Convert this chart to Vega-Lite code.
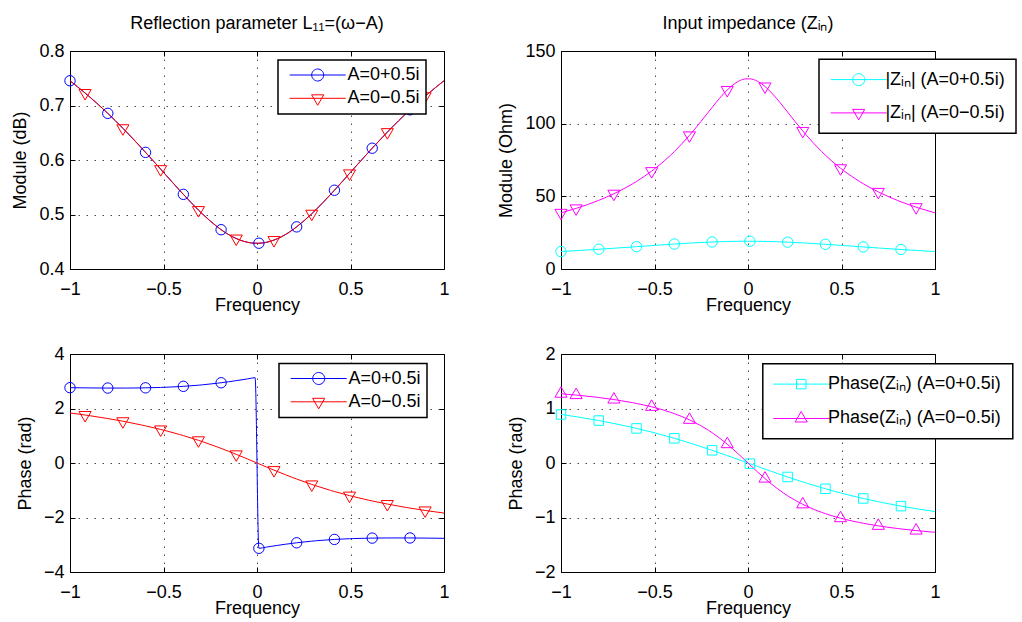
{
"$schema": "https://vega.github.io/schema/vega-lite/v6.json",
"padding": {"left": 11, "top": 14, "right": 0, "bottom": 0},
"datasets": {"d": [
{"x":-1,"gb":0.7454,"gr":0.7454,"pb":2.7642,"pr":1.8368,"zb":12.01,"zr":38.65,"hb":0.8906,"hr":1.2711,"c":1,"u":1},
{"x":-0.9192,"gb":0.7229,"gr":0.7229,"pb":2.7571,"pr":1.7607,"zb":12.62,"zr":41.71,"hb":0.8491,"hr":1.2465,"t":1,"u":1},
{"x":-0.899,"gb":0.717,"gr":0.717,"pb":2.7556,"pr":1.7404,"zb":12.78,"zr":42.55,"hb":0.838,"hr":1.2397},
{"x":-0.8182,"gb":0.6921,"gr":0.6921,"pb":2.7511,"pr":1.654,"zb":13.43,"zr":46.25,"hb":0.791,"hr":1.2097},
{"x":-0.798,"gb":0.6856,"gr":0.6856,"pb":2.7504,"pr":1.6309,"zb":13.6,"zr":47.27,"hb":0.7785,"hr":1.2013,"c":1},
{"x":-0.7172,"gb":0.6582,"gr":0.6582,"pb":2.75,"pr":1.5323,"zb":14.29,"zr":51.8,"hb":0.7253,"hr":1.164,"t":1,"u":1},
{"x":-0.697,"gb":0.6511,"gr":0.6511,"pb":2.7505,"pr":1.5059,"zb":14.47,"zr":53.06,"hb":0.7111,"hr":1.1535},
{"x":-0.6162,"gb":0.6216,"gr":0.6216,"pb":2.7562,"pr":1.3928,"zb":15.19,"zr":58.68,"hb":0.6509,"hr":1.1059},
{"x":-0.596,"gb":0.614,"gr":0.614,"pb":2.7586,"pr":1.3625,"zb":15.38,"zr":60.26,"hb":0.6349,"hr":1.0924,"c":1},
{"x":-0.5152,"gb":0.5832,"gr":0.5832,"pb":2.773,"pr":1.2321,"zb":16.11,"zr":67.34,"hb":0.567,"hr":1.0305,"t":1,"u":1},
{"x":-0.4949,"gb":0.5754,"gr":0.5754,"pb":2.778,"pr":1.1971,"zb":16.29,"zr":69.33,"hb":0.549,"hr":1.0127},
{"x":-0.4141,"gb":0.5445,"gr":0.5445,"pb":2.8046,"pr":1.0465,"zb":17.0,"zr":78.28,"hb":0.4731,"hr":0.9298},
{"x":-0.3939,"gb":0.537,"gr":0.537,"pb":2.8131,"pr":1.0061,"zb":17.17,"zr":80.79,"hb":0.4531,"hr":0.9056,"c":1},
{"x":-0.3131,"gb":0.5081,"gr":0.5081,"pb":2.8552,"pr":0.8326,"zb":17.81,"zr":91.95,"hb":0.3693,"hr":0.792,"t":1,"u":1},
{"x":-0.2929,"gb":0.5014,"gr":0.5014,"pb":2.8679,"pr":0.7862,"zb":17.96,"zr":95.0,"hb":0.3474,"hr":0.7587},
{"x":-0.2121,"gb":0.4773,"gr":0.4773,"pb":2.9279,"pr":0.5887,"zb":18.47,"zr":107.92,"hb":0.2564,"hr":0.6016},
{"x":-0.1919,"gb":0.4721,"gr":0.4721,"pb":2.9451,"pr":0.5365,"zb":18.58,"zr":111.2,"hb":0.2329,"hr":0.5558,"c":1},
{"x":-0.1515,"gb":0.4631,"gr":0.4631,"pb":2.9821,"pr":0.4289,"zb":18.77,"zr":117.53,"hb":0.1851,"hr":0.4559},
{"x":-0.1111,"gb":0.4559,"gr":0.4559,"pb":3.022,"pr":0.3177,"zb":18.92,"zr":123.18,"hb":0.1365,"hr":0.3452,"t":1,"u":1},
{"x":-0.0909,"gb":0.4531,"gr":0.4531,"pb":3.0429,"pr":0.261,"zb":18.98,"zr":125.58,"hb":0.1119,"hr":0.2861},
{"x":-0.0505,"gb":0.449,"gr":0.449,"pb":3.0861,"pr":0.1458,"zb":19.06,"zr":129.19,"hb":0.0623,"hr":0.162},
{"x":-0.0101,"gb":0.4473,"gr":0.4473,"pb":3.1304,"pr":0.0292,"zb":19.1,"zr":130.83,"hb":0.0125,"hr":0.0327},
{"x":0.0101,"gb":0.4473,"gr":0.4473,"pb":-3.1304,"pr":-0.0292,"zb":19.1,"zr":130.83,"hb":-0.0125,"hr":-0.0327,"c":1},
{"x":0.0505,"gb":0.449,"gr":0.449,"pb":-3.0861,"pr":-0.1458,"zb":19.06,"zr":129.19,"hb":-0.0623,"hr":-0.162},
{"x":0.0909,"gb":0.4531,"gr":0.4531,"pb":-3.0429,"pr":-0.261,"zb":18.98,"zr":125.58,"hb":-0.1119,"hr":-0.2861,"t":1,"u":1},
{"x":0.1111,"gb":0.4559,"gr":0.4559,"pb":-3.022,"pr":-0.3177,"zb":18.92,"zr":123.18,"hb":-0.1365,"hr":-0.3452},
{"x":0.1515,"gb":0.4631,"gr":0.4631,"pb":-2.9821,"pr":-0.4289,"zb":18.77,"zr":117.53,"hb":-0.1851,"hr":-0.4559},
{"x":0.1919,"gb":0.4721,"gr":0.4721,"pb":-2.9451,"pr":-0.5365,"zb":18.58,"zr":111.2,"hb":-0.2329,"hr":-0.5558},
{"x":0.2121,"gb":0.4773,"gr":0.4773,"pb":-2.9279,"pr":-0.5887,"zb":18.47,"zr":107.92,"hb":-0.2564,"hr":-0.6016,"c":1},
{"x":0.2929,"gb":0.5014,"gr":0.5014,"pb":-2.8679,"pr":-0.7862,"zb":17.96,"zr":95.0,"hb":-0.3474,"hr":-0.7587,"t":1,"u":1},
{"x":0.3131,"gb":0.5081,"gr":0.5081,"pb":-2.8552,"pr":-0.8326,"zb":17.81,"zr":91.95,"hb":-0.3693,"hr":-0.792},
{"x":0.3939,"gb":0.537,"gr":0.537,"pb":-2.8131,"pr":-1.0061,"zb":17.17,"zr":80.79,"hb":-0.4531,"hr":-0.9056},
{"x":0.4141,"gb":0.5445,"gr":0.5445,"pb":-2.8046,"pr":-1.0465,"zb":17.0,"zr":78.28,"hb":-0.4731,"hr":-0.9298,"c":1},
{"x":0.4949,"gb":0.5754,"gr":0.5754,"pb":-2.778,"pr":-1.1971,"zb":16.29,"zr":69.33,"hb":-0.549,"hr":-1.0127,"t":1,"u":1},
{"x":0.5152,"gb":0.5832,"gr":0.5832,"pb":-2.773,"pr":-1.2321,"zb":16.11,"zr":67.34,"hb":-0.567,"hr":-1.0305},
{"x":0.596,"gb":0.614,"gr":0.614,"pb":-2.7586,"pr":-1.3625,"zb":15.38,"zr":60.26,"hb":-0.6349,"hr":-1.0924},
{"x":0.6162,"gb":0.6216,"gr":0.6216,"pb":-2.7562,"pr":-1.3928,"zb":15.19,"zr":58.68,"hb":-0.6509,"hr":-1.1059,"c":1},
{"x":0.697,"gb":0.6511,"gr":0.6511,"pb":-2.7505,"pr":-1.5059,"zb":14.47,"zr":53.06,"hb":-0.7111,"hr":-1.1535,"t":1,"u":1},
{"x":0.7172,"gb":0.6582,"gr":0.6582,"pb":-2.75,"pr":-1.5323,"zb":14.29,"zr":51.8,"hb":-0.7253,"hr":-1.164},
{"x":0.798,"gb":0.6856,"gr":0.6856,"pb":-2.7504,"pr":-1.6309,"zb":13.6,"zr":47.27,"hb":-0.7785,"hr":-1.2013},
{"x":0.8182,"gb":0.6921,"gr":0.6921,"pb":-2.7511,"pr":-1.654,"zb":13.43,"zr":46.25,"hb":-0.791,"hr":-1.2097,"c":1},
{"x":0.899,"gb":0.717,"gr":0.717,"pb":-2.7556,"pr":-1.7404,"zb":12.78,"zr":42.55,"hb":-0.838,"hr":-1.2397,"t":1,"u":1},
{"x":0.9192,"gb":0.7229,"gr":0.7229,"pb":-2.7571,"pr":-1.7607,"zb":12.62,"zr":41.71,"hb":-0.8491,"hr":-1.2465},
{"x":1,"gb":0.7454,"gr":0.7454,"pb":-2.7642,"pr":-1.8368,"zb":12.01,"zr":38.65,"hb":-0.8906,"hr":-1.2711}
]},
"columns": 2,
"spacing": {"row": 85, "column": 117},
"bounds": "flush",
"resolve": {"scale": {"color": "independent"}, "legend": {"color": "independent"}},
"concat": [
{
 "width": 374, "height": 218,
 "title": {"text": "Reflection parameter L₁₁=(ω−A)"},
 "data": {"name": "d"},
 "resolve": {"axis": {"x": "independent", "y": "independent"}},
 "layer": [
  {"transform": [{"fold": ["gb", "gr"], "as": ["s", "v"]}],
   "mark": {"type": "line", "strokeWidth": 1, "interpolate": "monotone"},
   "encoding": {
    "x": {"field": "x", "type": "quantitative", "scale": {"domain": [-1, 1], "nice": false, "zero": false}, "axis": {"values": [-1, -0.5, 0, 0.5, 1], "format": "~g", "title": "Frequency"}},
    "y": {"field": "v", "type": "quantitative", "scale": {"domain": [0.4, 0.8], "nice": false, "zero": false}, "axis": {"values": [0.4, 0.5, 0.6, 0.7, 0.8], "format": ".1f", "title": "Module (dB)"}},
    "color": {"field": "s", "type": "nominal", "scale": {"domain": ["gb", "gr"], "range": ["#0000ff", "#ff0000"]},
     "legend": {"title": null, "orient": "none", "legendX": 208, "legendY": 9, "padding": 6, "rowPadding": 5.3, "symbolSize": 4, "symbolOffset": -3.3, "labelOffset": 48.7,
      "labelExpr": "datum.value == 'gb' ? 'A=0+0.5i' : 'A=0−0.5i'",
      "encode": {"symbols": {"update": {"shape": {"signal": "datum.value == 'gb' ? 'M0,0H56M34,0A6,6 0 1 1 22,0A6,6 0 1 1 34,0' : 'M0,0H56M28,7L34.06,-3.5L21.94,-3.5Z'"}, "fill": {"value": "transparent"}, "strokeWidth": {"value": 1}}}}}}
   }},
  {"transform": [{"filter": "datum.c"}],
   "mark": {"type": "point", "shape": "circle", "size": 108, "filled": false, "color": "#0000ff", "strokeWidth": 1, "opacity": 1},
   "encoding": {
    "x": {"field": "x", "type": "quantitative", "axis": {"orient": "top", "labels": false, "title": null, "grid": false, "values": [-1, -0.5, 0, 0.5, 1]}},
    "y": {"field": "gb", "type": "quantitative", "axis": {"orient": "right", "labels": false, "title": null, "grid": false, "values": [0.4, 0.5, 0.6, 0.7, 0.8]}}}},
  {"transform": [{"filter": "datum.t"}],
   "mark": {"type": "point", "shape": "M0,7L6.06,-3.5L-6.06,-3.5Z", "size": 4, "filled": false, "color": "#ff0000", "strokeWidth": 1, "opacity": 1},
   "encoding": {"x": {"field": "x", "type": "quantitative", "axis": null}, "y": {"field": "gr", "type": "quantitative", "axis": null}}}
 ]
},
{
 "width": 374, "height": 218,
 "title": {"text": "Input impedance (Zᵢₙ)"},
 "data": {"name": "d"},
 "resolve": {"axis": {"x": "independent", "y": "independent"}},
 "layer": [
  {"transform": [{"fold": ["zb", "zr"], "as": ["s", "v"]}],
   "mark": {"type": "line", "strokeWidth": 1, "interpolate": "monotone"},
   "encoding": {
    "x": {"field": "x", "type": "quantitative", "scale": {"domain": [-1, 1], "nice": false, "zero": false}, "axis": {"values": [-1, -0.5, 0, 0.5, 1], "format": "~g", "title": "Frequency"}},
    "y": {"field": "v", "type": "quantitative", "scale": {"domain": [0, 150], "nice": false, "zero": false}, "axis": {"values": [0, 50, 100, 150], "format": "d", "title": "Module (Ohm)"}},
    "color": {"field": "s", "type": "nominal", "scale": {"domain": ["zb", "zr"], "range": ["#00ffff", "#ff00ff"]},
     "legend": {"title": null, "orient": "none", "legendX": 258, "legendY": 8.3, "padding": 11.3, "rowPadding": 15.3, "symbolSize": 4, "symbolOffset": -8.6, "labelOffset": 45.7,
      "labelExpr": "datum.value == 'zb' ? '|Zᵢₙ| (A=0+0.5i)' : '|Zᵢₙ| (A=0−0.5i)'",
      "encode": {"symbols": {"update": {"shape": {"signal": "datum.value == 'zb' ? 'M0,0H56M34,0A6,6 0 1 1 22,0A6,6 0 1 1 34,0' : 'M0,0H56M28,7L34.06,-3.5L21.94,-3.5Z'"}, "fill": {"value": "transparent"}, "strokeWidth": {"value": 1}}}}}}
   }},
  {"transform": [{"filter": "datum.c"}],
   "mark": {"type": "point", "shape": "circle", "size": 108, "filled": false, "color": "#00ffff", "strokeWidth": 1, "opacity": 1},
   "encoding": {
    "x": {"field": "x", "type": "quantitative", "axis": {"orient": "top", "labels": false, "title": null, "grid": false, "values": [-1, -0.5, 0, 0.5, 1]}},
    "y": {"field": "zb", "type": "quantitative", "axis": {"orient": "right", "labels": false, "title": null, "grid": false, "values": [0, 50, 100, 150]}}}},
  {"transform": [{"filter": "datum.u"}],
   "mark": {"type": "point", "shape": "M0,7L6.06,-3.5L-6.06,-3.5Z", "size": 4, "filled": false, "color": "#ff00ff", "strokeWidth": 1, "opacity": 1},
   "encoding": {"x": {"field": "x", "type": "quantitative", "axis": null}, "y": {"field": "zr", "type": "quantitative", "axis": null}}}
 ]
},
{
 "width": 374, "height": 218,
 "data": {"name": "d"},
 "resolve": {"axis": {"x": "independent", "y": "independent"}},
 "layer": [
  {"transform": [{"fold": ["pb", "pr"], "as": ["s", "v"]}],
   "mark": {"type": "line", "strokeWidth": 1, "interpolate": "monotone"},
   "encoding": {
    "x": {"field": "x", "type": "quantitative", "scale": {"domain": [-1, 1], "nice": false, "zero": false}, "axis": {"values": [-1, -0.5, 0, 0.5, 1], "format": "~g", "title": "Frequency"}},
    "y": {"field": "v", "type": "quantitative", "scale": {"domain": [-4, 4], "nice": false, "zero": false}, "axis": {"values": [-4, -2, 0, 2, 4], "format": "d", "title": "Phase (rad)"}},
    "color": {"field": "s", "type": "nominal", "scale": {"domain": ["pb", "pr"], "range": ["#0000ff", "#ff0000"]},
     "legend": {"title": null, "orient": "none", "legendX": 209, "legendY": 9.5, "padding": 6, "rowPadding": 5.3, "symbolSize": 4, "symbolOffset": -3.3, "labelOffset": 48.7,
      "labelExpr": "datum.value == 'pb' ? 'A=0+0.5i' : 'A=0−0.5i'",
      "encode": {"symbols": {"update": {"shape": {"signal": "datum.value == 'pb' ? 'M0,0H56M34,0A6,6 0 1 1 22,0A6,6 0 1 1 34,0' : 'M0,0H56M28,7L34.06,-3.5L21.94,-3.5Z'"}, "fill": {"value": "transparent"}, "strokeWidth": {"value": 1}}}}}}
   }},
  {"transform": [{"filter": "datum.c"}],
   "mark": {"type": "point", "shape": "circle", "size": 108, "filled": false, "color": "#0000ff", "strokeWidth": 1, "opacity": 1},
   "encoding": {
    "x": {"field": "x", "type": "quantitative", "axis": {"orient": "top", "labels": false, "title": null, "grid": false, "values": [-1, -0.5, 0, 0.5, 1]}},
    "y": {"field": "pb", "type": "quantitative", "axis": {"orient": "right", "labels": false, "title": null, "grid": false, "values": [-4, -2, 0, 2, 4]}}}},
  {"transform": [{"filter": "datum.t"}],
   "mark": {"type": "point", "shape": "M0,7L6.06,-3.5L-6.06,-3.5Z", "size": 4, "filled": false, "color": "#ff0000", "strokeWidth": 1, "opacity": 1},
   "encoding": {"x": {"field": "x", "type": "quantitative", "axis": null}, "y": {"field": "pr", "type": "quantitative", "axis": null}}}
 ]
},
{
 "width": 374, "height": 218,
 "data": {"name": "d"},
 "resolve": {"axis": {"x": "independent", "y": "independent"}},
 "layer": [
  {"transform": [{"fold": ["hb", "hr"], "as": ["s", "v"]}],
   "mark": {"type": "line", "strokeWidth": 1, "interpolate": "monotone"},
   "encoding": {
    "x": {"field": "x", "type": "quantitative", "scale": {"domain": [-1, 1], "nice": false, "zero": false}, "axis": {"values": [-1, -0.5, 0, 0.5, 1], "format": "~g", "title": "Frequency"}},
    "y": {"field": "v", "type": "quantitative", "scale": {"domain": [-2, 2], "nice": false, "zero": false}, "axis": {"values": [-2, -1, 0, 1, 2], "format": "d", "title": "Phase (rad)"}},
    "color": {"field": "s", "type": "nominal", "scale": {"domain": ["hb", "hr"], "range": ["#00ffff", "#ff00ff"]},
     "legend": {"title": null, "orient": "none", "legendX": 201.8, "legendY": 9.8, "padding": 11.3, "rowPadding": 16.4, "symbolSize": 4, "symbolOffset": -9.9, "labelOffset": 45.7,
      "labelExpr": "datum.value == 'hb' ? 'Phase(Zᵢₙ) (A=0+0.5i)' : 'Phase(Zᵢₙ) (A=0−0.5i)'",
      "encode": {"symbols": {"update": {"shape": {"signal": "datum.value == 'hb' ? 'M0,0H57M23.25,-4.75H32.75V4.75H23.25Z' : 'M0,0H57M28,-7L34.06,3.5L21.94,3.5Z'"}, "fill": {"value": "transparent"}, "strokeWidth": {"value": 1}}}}}}
   }},
  {"transform": [{"filter": "datum.c"}],
   "mark": {"type": "point", "shape": "square", "size": 90, "filled": false, "color": "#00ffff", "strokeWidth": 1, "opacity": 1},
   "encoding": {
    "x": {"field": "x", "type": "quantitative", "axis": {"orient": "top", "labels": false, "title": null, "grid": false, "values": [-1, -0.5, 0, 0.5, 1]}},
    "y": {"field": "hb", "type": "quantitative", "axis": {"orient": "right", "labels": false, "title": null, "grid": false, "values": [-2, -1, 0, 1, 2]}}}},
  {"transform": [{"filter": "datum.u"}],
   "mark": {"type": "point", "shape": "M0,-7L6.06,3.5L-6.06,3.5Z", "size": 4, "filled": false, "color": "#ff00ff", "strokeWidth": 1, "opacity": 1},
   "encoding": {"x": {"field": "x", "type": "quantitative", "axis": null}, "y": {"field": "hr", "type": "quantitative", "axis": null}}}
 ]
}
],
"config": {
 "view": {"stroke": "#000000", "strokeWidth": 1},
 "font": "Liberation Sans",
 "title": {"font": "Liberation Sans", "fontSize": 18, "fontWeight": "normal", "color": "#000000", "baseline": "alphabetic", "offset": 9, "anchor": "middle", "frame": "group"},
 "axis": {"labelFont": "Liberation Sans", "labelFontSize": 18, "labelColor": "#000000", "titleFont": "Liberation Sans", "titleFontSize": 18, "titleFontWeight": "normal", "titleColor": "#000000",
  "domain": false, "ticks": true, "tickColor": "#000000", "tickSize": -5, "tickWidth": 1,
  "grid": true, "gridColor": "#000000", "gridDash": [1.5, 6.5], "gridOpacity": 0.7, "gridWidth": 1,
  "labelFlush": false, "labelOverlap": false},
 "axisX": {"labelPadding": 16, "titlePadding": -2},
 "axisY": {"labelPadding": 11, "titlePadding": 9},
 "legend": {"labelFont": "Liberation Sans", "labelFontSize": 18, "labelColor": "#000000", "labelLimit": 0, "strokeColor": "#000000", "strokeWidth": 1.5, "fillColor": "#ffffff", "symbolStrokeWidth": 1, "cornerRadius": 0}
}
}
